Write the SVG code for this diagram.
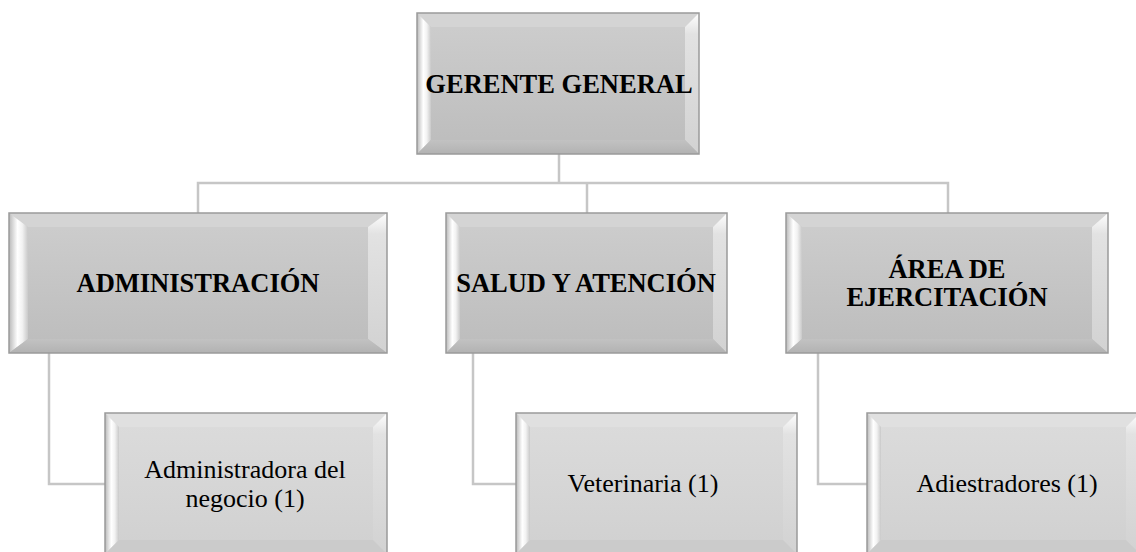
<svg xmlns="http://www.w3.org/2000/svg" width="1136" height="552" viewBox="0 0 1136 552">
<defs>
<linearGradient id="faceMid" x1="0" y1="0" x2="0" y2="1"><stop offset="0" stop-color="#cecece"/><stop offset="1" stop-color="#bcbcbc"/></linearGradient>
<linearGradient id="faceLow" x1="0" y1="0" x2="0" y2="1"><stop offset="0" stop-color="#dcdcdc"/><stop offset="1" stop-color="#d0d0d0"/></linearGradient>
<linearGradient id="bevLeft" x1="0" y1="0" x2="1" y2="0"><stop offset="0" stop-color="#b9b9b9"/><stop offset="0.45" stop-color="#ffffff"/><stop offset="0.7" stop-color="#f2f2f2"/><stop offset="1" stop-color="#c9c9c9"/></linearGradient>
<linearGradient id="bevRight" x1="0" y1="0" x2="0" y2="1"><stop offset="0" stop-color="#ffffff"/><stop offset="0.15" stop-color="#e2e2e2"/><stop offset="1" stop-color="#d2d2d2"/></linearGradient>
<linearGradient id="bevBottom" x1="0" y1="0" x2="0" y2="1"><stop offset="0" stop-color="#c2c2c2"/><stop offset="1" stop-color="#b2b2b2"/></linearGradient>
</defs>
<style>
.outer{stroke:#9a9a9a;stroke-width:1.5}
.mid{fill:url(#faceMid)}
.low{fill:url(#faceLow)}
.bt{fill:#d4d4d4}
.btl{fill:#e0e0e0}
.bl{fill:url(#bevLeft)}
.br{fill:url(#bevRight)}
.bb{fill:url(#bevBottom)}
.bbl{fill:#cbcbcb}
.conn{fill:none;stroke:#c6c6c6;stroke-width:2.5}
.hd{font-family:'Liberation Serif','Times New Roman',serif;font-weight:bold;font-size:26.5px;fill:#000;text-anchor:middle}
.tx{font-family:'Liberation Serif','Times New Roman',serif;font-size:26px;fill:#000;text-anchor:middle}
</style>
<g id="connectors">
<polyline class="conn" points="559,154 559,183"/>
<polyline class="conn" points="198,213 198,183 948,183 948,213"/>
<polyline class="conn" points="587,183 587,213"/>
<polyline class="conn" points="49,353 49,484 105,484"/>
<polyline class="conn" points="473,353 473,484 516,484"/>
<polyline class="conn" points="818,353 818,484 867,484"/>
</g>
<g id="gerente">
<rect class="mid" x="417" y="13" width="282" height="141"/>
<polygon class="bt" points="417,13 699,13 685,27 431,27"/>
<polygon class="bl" points="417,13 431,27 431,140 417,154"/>
<polygon class="br" points="699,13 699,154 685,140 685,27"/>
<polygon class="bb" points="417,154 431,140 685,140 699,154"/>
<rect class="outer" fill="none" x="417" y="13" width="282" height="141"/>
<text class="hd" x="559" y="93">GERENTE GENERAL</text>
</g>
<g id="administracion">
<rect class="mid" x="9" y="213" width="378" height="140"/>
<polygon class="bt" points="9,213 387,213 368,227 28,227"/>
<polygon class="bl" points="9,213 28,227 28,339 9,353"/>
<polygon class="br" points="387,213 387,353 368,339 368,227"/>
<polygon class="bb" points="9,353 28,339 368,339 387,353"/>
<rect class="outer" fill="none" x="9" y="213" width="378" height="140"/>
<text class="hd" x="198" y="292">ADMINISTRACIÓN</text>
</g>
<g id="salud">
<rect class="mid" x="446" y="213" width="281" height="140"/>
<polygon class="bt" points="446,213 727,213 713,227 460,227"/>
<polygon class="bl" points="446,213 460,227 460,339 446,353"/>
<polygon class="br" points="727,213 727,353 713,339 713,227"/>
<polygon class="bb" points="446,353 460,339 713,339 727,353"/>
<rect class="outer" fill="none" x="446" y="213" width="281" height="140"/>
<text class="hd" x="586" y="292">SALUD Y ATENCIÓN</text>
</g>
<g id="area">
<rect class="mid" x="786" y="213" width="322" height="140"/>
<polygon class="bt" points="786,213 1108,213 1092,227 802,227"/>
<polygon class="bl" points="786,213 802,227 802,339 786,353"/>
<polygon class="br" points="1108,213 1108,353 1092,339 1092,227"/>
<polygon class="bb" points="786,353 802,339 1092,339 1108,353"/>
<rect class="outer" fill="none" x="786" y="213" width="322" height="140"/>
<text class="hd" x="947" y="278">ÁREA DE</text>
<text class="hd" x="947" y="306">EJERCITACIÓN</text>
</g>
<g id="administradora">
<rect class="low" x="105" y="413" width="282" height="141"/>
<polygon class="btl" points="105,413 387,413 373,427 119,427"/>
<polygon class="bl" points="105,413 119,427 119,540 105,554"/>
<polygon class="br" points="387,413 387,554 373,540 373,427"/>
<polygon class="bbl" points="105,554 119,540 373,540 387,554"/>
<rect class="outer" fill="none" x="105" y="413" width="282" height="141"/>
<text class="tx" x="245" y="478">Administradora del</text>
<text class="tx" x="245" y="507">negocio (1)</text>
</g>
<g id="veterinaria">
<rect class="low" x="516" y="413" width="281" height="141"/>
<polygon class="btl" points="516,413 797,413 783,427 530,427"/>
<polygon class="bl" points="516,413 530,427 530,540 516,554"/>
<polygon class="br" points="797,413 797,554 783,540 783,427"/>
<polygon class="bbl" points="516,554 530,540 783,540 797,554"/>
<rect class="outer" fill="none" x="516" y="413" width="281" height="141"/>
<text class="tx" x="643" y="492">Veterinaria (1)</text>
</g>
<g id="adiestradores">
<rect class="low" x="867" y="413" width="273" height="141"/>
<polygon class="btl" points="867,413 1140,413 1126,427 881,427"/>
<polygon class="bl" points="867,413 881,427 881,540 867,554"/>
<polygon class="br" points="1140,413 1140,554 1126,540 1126,427"/>
<polygon class="bbl" points="867,554 881,540 1126,540 1140,554"/>
<rect class="outer" fill="none" x="867" y="413" width="273" height="141"/>
<text class="tx" x="1007" y="492">Adiestradores (1)</text>
</g>
</svg>
